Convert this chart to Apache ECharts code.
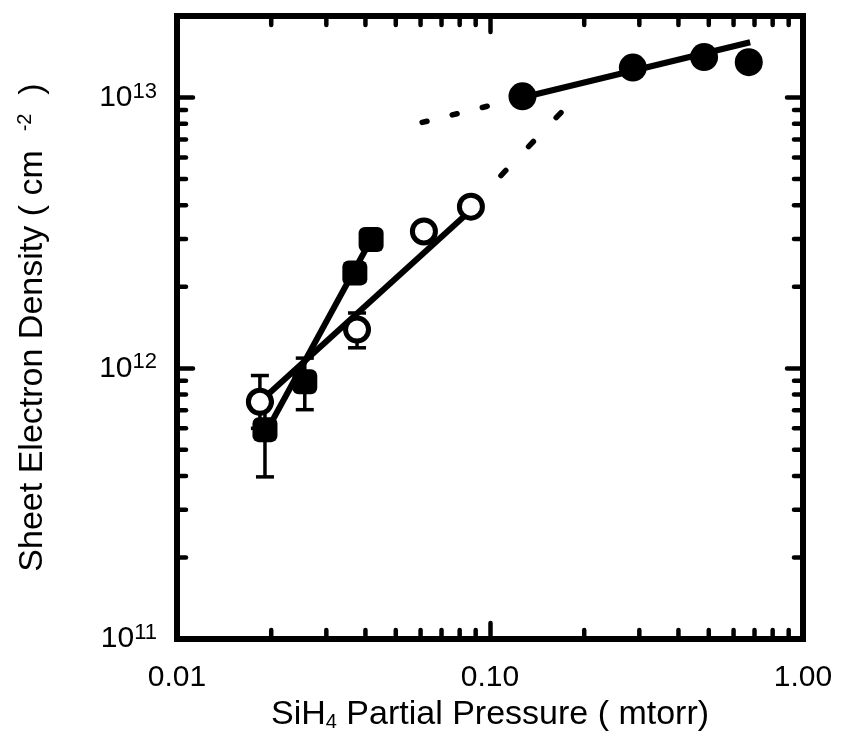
<!DOCTYPE html>
<html>
<head>
<meta charset="utf-8">
<script src="https://cdn.jsdelivr.net/npm/echarts@6/dist/echarts.min.js"></script>
<style>
html,body{margin:0;padding:0;background:#fff;}
#chart{width:841px;height:751px;}
</style>
</head>
<body>
<div id="chart"></div>
<script>
// ---- data ----
// filled circles
const filledCircleX = [0.127, 0.286, 0.483, 0.671];
const filledCircleY = [1.01e13, 1.29e13, 1.41e13, 1.35e13];
const filledFitX = [0.127, 0.678];
const filledFitY = [1.0e13, 1.60e13];
// open circles
const openCircleX = [0.0184, 0.0376, 0.0615, 0.0869];
const openCircleY = [7.52e11, 1.39e12, 3.2e12, 3.95e12];
const openErrX = [0.0184, 0.0376];
const openErrLow = [6.0e11, 1.19e12];
const openErrHigh = [9.4e11, 1.6e12];
const openFitX = [0.0187, 0.0908];
const openFitY = [7.65e11, 4.02e12];
// filled squares
const squareX = [0.0191, 0.0256, 0.0370, 0.0417];
const squareY = [5.93e11, 8.91e11, 2.25e12, 2.99e12];
const squareErrX = [0.0191, 0.0256];
const squareErrLow = [3.97e11, 7.03e11];
const squareErrHigh = [7.5e11, 1.09e12];
const squareFitX = [0.0196, 0.0417];
const squareFitY = [6.03e11, 2.99e12];
// dotted extrapolations
const dot1X = [0.0607, 0.127];
const dot1Y = [8.09e12, 1.0e13];
const dot2X = [0.1084, 0.171];
const dot2Y = [5.15e12, 8.95e12];
// axes
const xMin = 0.01, xMax = 1.0;
const yMin = 1e11, yMax = 2e13;
const xMinorTicks = [0.02,0.03,0.04,0.05,0.06,0.07,0.08,0.09,0.2,0.3,0.4,0.5,0.6,0.7,0.8,0.9];
const yMinorTicks = [2e11,3e11,4e11,5e11,6e11,7e11,8e11,9e11,2e12,3e12,4e12,5e12,6e12,7e12,8e12,9e12];
const xTickLabels = ['0.01','0.10','1.00'];

const zip = (a,b) => a.map((v,i)=>[v,b[i]]);
const FONT = 'Liberation Sans, Arial, Helvetica, sans-serif';

function errRender(params, api){
  const x = api.value(0), lo = api.value(1), hi = api.value(2);
  const pL = api.coord([x, lo]), pH = api.coord([x, hi]);
  const hw = 9;
  const st = {stroke:'#000', lineWidth:3.5};
  return {type:'group', children:[
    {type:'line', shape:{x1:pL[0],y1:pL[1],x2:pH[0],y2:pH[1]}, style:st},
    {type:'line', shape:{x1:pL[0]-hw,y1:pL[1],x2:pL[0]+hw,y2:pL[1]}, style:st},
    {type:'line', shape:{x1:pH[0]-hw,y1:pH[1],x2:pH[0]+hw,y2:pH[1]}, style:st}
  ]};
}
const MINOR = 9;
const tickStyle = {stroke:'#000', lineWidth:4.5, lineCap:'round'};
function xMinorRender(params, api){
  const v = api.value(0);
  const b = api.coord([v, yMin]), t = api.coord([v, yMax]);
  return {type:'group', children:[
    {type:'line', shape:{x1:b[0],y1:b[1],x2:b[0],y2:b[1]-MINOR}, style:tickStyle},
    {type:'line', shape:{x1:t[0],y1:t[1],x2:t[0],y2:t[1]+MINOR}, style:tickStyle}
  ]};
}
function yMinorRender(params, api){
  const v = api.value(1);
  const l = api.coord([xMin, v]), r = api.coord([xMax, v]);
  return {type:'group', children:[
    {type:'line', shape:{x1:l[0],y1:l[1],x2:l[0]+MINOR,y2:l[1]}, style:tickStyle},
    {type:'line', shape:{x1:r[0],y1:r[1],x2:r[0]-MINOR,y2:r[1]}, style:tickStyle}
  ]};
}

const chart = echarts.init(document.getElementById('chart'), null, {renderer:'canvas'});
const isPow10 = v => Math.abs(Math.log10(v) - Math.round(Math.log10(v))) < 0.01;

const baseX = {
  type:'log', logBase:10, min:xMin, max:xMax,
  axisLine:{show:false}, splitLine:{show:false},
  axisTick:{show:true, inside:true, length:16, lineStyle:{color:'#000', width:4.5, cap:'round'}}
};
const baseY = {
  type:'log', logBase:10, min:yMin, max:yMax,
  axisLine:{show:false}, splitLine:{show:false},
  axisTick:{show:true, inside:true, length:16, lineStyle:{color:'#000', width:4.5, cap:'round'}}
};

chart.setOption({
  animation:false,
  backgroundColor:'#fff',
  grid:{left:177, right:38, top:16, bottom:112, show:true, borderColor:'#000', borderWidth:6, backgroundColor:'transparent'},
  xAxis:[
    Object.assign({}, baseX, {
      position:'bottom',
      name:'{n|SiH}{sub|4}{n| Partial Pressure ( mtorr)}',
      nameLocation:'middle', nameGap:56,
      nameTextStyle:{rich:{
        n:{fontFamily:FONT, fontSize:34, color:'#000'},
        sub:{fontFamily:FONT, fontSize:20, color:'#000', padding:[16,0,0,0]}
      }},
      axisLabel:{show:true, margin:24, color:'#000', fontFamily:FONT, fontSize:30,
        showMinLabel:true, showMaxLabel:true,
        formatter:function(v){
          if(!isPow10(v)) return '';
          const e = Math.round(Math.log10(v));
          return xTickLabels[e+2] || '';
        }}
    }),
    Object.assign({}, baseX, {position:'top', axisLabel:{show:false}})
  ],
  yAxis:[
    Object.assign({}, baseY, {
      position:'left',
      name:'{n|Sheet Electron Density ( cm  }{sup|-2}{n|  )}',
      nameLocation:'middle', nameGap:126, nameRotate:90,
      nameTextStyle:{rich:{
        n:{fontFamily:FONT, fontSize:34, color:'#000'},
        sup:{fontFamily:FONT, fontSize:20, color:'#000', padding:[0,0,16,0]}
      }},
      axisLabel:{show:true, margin:20, color:'#000', showMinLabel:true, showMaxLabel:true,
        formatter:function(v){
          if(!isPow10(v)) return '';
          const e = Math.round(Math.log10(v));
          return '{b|10}{s|' + e + '}';
        },
        rich:{
          b:{fontFamily:FONT, fontSize:30, color:'#000'},
          s:{fontFamily:FONT, fontSize:22, color:'#000', padding:[0,0,12,0]}
        }}
    }),
    Object.assign({}, baseY, {position:'right', axisLabel:{show:false}})
  ],
  series:[
    {type:'custom', name:'xminor', renderItem:xMinorRender, clip:false, silent:true,
     data:xMinorTicks.map(v=>[v, yMin]), z:5},
    {type:'custom', name:'yminor', renderItem:yMinorRender, clip:false, silent:true,
     data:yMinorTicks.map(v=>[xMin, v]), z:5},
    {type:'custom', name:'openErr', renderItem:errRender, clip:false,
     data:openErrX.map((x,i)=>[x, openErrLow[i], openErrHigh[i]]), z:2},
    {type:'custom', name:'squareErr', renderItem:errRender, clip:false,
     data:squareErrX.map((x,i)=>[x, squareErrLow[i], squareErrHigh[i]]), z:2},
    {type:'line', name:'dot1', data:zip(dot1X,dot1Y), symbol:'none', z:3,
     lineStyle:{color:'#000', width:5.5, type:[5,26], cap:'round'}},
    {type:'line', name:'dot2', data:zip(dot2X,dot2Y), symbol:'none', z:3,
     lineStyle:{color:'#000', width:5.5, type:[7,33], cap:'round'}},
    {type:'line', name:'filledFit', data:zip(filledFitX,filledFitY), symbol:'none', z:3,
     lineStyle:{color:'#000', width:6}},
    {type:'line', name:'openFit', data:zip(openFitX,openFitY), symbol:'none', z:3,
     lineStyle:{color:'#000', width:6}},
    {type:'line', name:'squareFit', data:zip(squareFitX,squareFitY), symbol:'none', z:3,
     lineStyle:{color:'#000', width:6}},
    {type:'scatter', name:'filledCircles', data:zip(filledCircleX,filledCircleY), symbol:'circle', symbolSize:28, z:4,
     itemStyle:{color:'#000', opacity:1}},
    {type:'scatter', name:'openCircles', data:zip(openCircleX,openCircleY), symbol:'circle', symbolSize:23, z:4,
     itemStyle:{color:'#fff', borderColor:'#000', borderWidth:5, opacity:1}},
    {type:'scatter', name:'squares', data:zip(squareX,squareY), symbol:'roundRect', symbolSize:25, z:4,
     itemStyle:{color:'#000', opacity:1}}
  ]
});
</script>
</body>
</html>
